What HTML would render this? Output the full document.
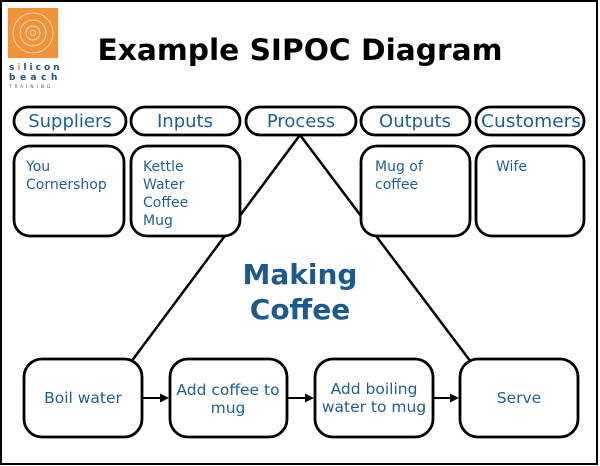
<!DOCTYPE html>
<html><head><meta charset="utf-8"><style>
html,body{margin:0;padding:0;background:#fff;}
svg{display:block;}
text{font-family:"DejaVu Sans","Liberation Sans",sans-serif;}
.b{fill:#fff;stroke:#000;stroke-width:2.8;}
.t{fill:#1f5f8f;font-size:14px;}
.u{fill:#1f5f8f;font-size:15.5px;}
.h{fill:#1f5f8f;font-size:18px;text-anchor:middle;}
</style></head><body>
<svg width="600" height="466" viewBox="0 0 600 466" xmlns="http://www.w3.org/2000/svg">
<rect x="1" y="1" width="596" height="463" fill="#fff" stroke="#000" stroke-width="2"/>
<!-- logo -->
<rect x="8" y="8" width="50" height="50" fill="#f39237"/>
<g fill="none" stroke="#fff" stroke-width="0.8" opacity="0.9">
<circle cx="33" cy="33" r="20"/><circle cx="33" cy="33" r="13"/><circle cx="33" cy="33" r="7"/><circle cx="33" cy="33" r="2.5"/>
</g>
<text x="9" y="70" font-size="9" font-weight="bold" fill="#1f4f7f" letter-spacing="3">s<tspan fill="#f39237">i</tspan>licon</text>
<text x="9" y="80" font-size="9" font-weight="bold" fill="#1f4f7f" letter-spacing="4.5">beach</text>
<text x="9" y="88" font-size="4.5" fill="#555" letter-spacing="2.8">TRAINING</text>
<!-- title -->
<text x="300" y="60" font-size="29" font-weight="bold" text-anchor="middle" textLength="405" lengthAdjust="spacingAndGlyphs" fill="#000">Example SIPOC Diagram</text>
<!-- triangle lines -->
<line x1="300" y1="135" x2="128" y2="366" stroke="#000" stroke-width="2.5"/>
<line x1="300" y1="135" x2="474" y2="366" stroke="#000" stroke-width="2.5"/>
<!-- pills -->
<rect class="b" x="14" y="107" width="112" height="28" rx="14"/>
<rect class="b" x="131" y="107" width="109" height="28" rx="14"/>
<rect class="b" x="246" y="107" width="110" height="28" rx="14"/>
<rect class="b" x="361" y="107" width="109" height="28" rx="14"/>
<rect class="b" x="476" y="107" width="108" height="28" rx="14"/>
<text class="h" x="70" y="127">Suppliers</text>
<text class="h" x="185" y="127">Inputs</text>
<text class="h" x="301" y="127">Process</text>
<text class="h" x="415" y="127">Outputs</text>
<text class="h" x="531" y="127" textLength="100" lengthAdjust="spacingAndGlyphs">Customers</text>
<!-- boxes -->
<rect class="b" x="14" y="146" width="110" height="90" rx="16"/>
<rect class="b" x="131" y="146" width="109" height="90" rx="16"/>
<rect class="b" x="361" y="146" width="109" height="90" rx="16"/>
<rect class="b" x="476" y="146" width="108" height="90" rx="16"/>
<text class="t" x="26" y="171">You</text>
<text class="t" x="26" y="189">Cornershop</text>
<text class="t" x="143" y="171">Kettle</text>
<text class="t" x="143" y="189">Water</text>
<text class="t" x="143" y="207">Coffee</text>
<text class="t" x="143" y="225">Mug</text>
<text class="t" x="375" y="171">Mug of</text>
<text class="t" x="375" y="189">coffee</text>
<text class="t" x="496" y="171">Wife</text>
<!-- center text -->
<text x="300" y="284" font-size="28" font-weight="bold" fill="#1a5a8c" text-anchor="middle">Making</text>
<text x="300" y="319" font-size="28" font-weight="bold" fill="#1a5a8c" text-anchor="middle">Coffee</text>
<!-- bottom boxes -->
<rect class="b" x="24" y="359" width="118" height="78" rx="18"/>
<rect class="b" x="170" y="359" width="117" height="78" rx="18"/>
<rect class="b" x="315" y="359" width="118" height="78" rx="18"/>
<rect class="b" x="460" y="359" width="118" height="78" rx="18"/>
<text class="u" x="83" y="403" text-anchor="middle">Boil water</text>
<text class="u" x="228" y="395" text-anchor="middle">Add coffee to</text>
<text class="u" x="228" y="413" text-anchor="middle">mug</text>
<text class="u" x="374" y="394" text-anchor="middle">Add boiling</text>
<text class="u" x="374" y="412" text-anchor="middle">water to mug</text>
<text class="u" x="519" y="403" text-anchor="middle">Serve</text>
<!-- arrows -->
<g stroke="#000" stroke-width="2">
<line x1="143" y1="398" x2="162" y2="398"/>
<line x1="288" y1="398" x2="307" y2="398"/>
<line x1="434" y1="398" x2="452" y2="398"/>
</g>
<g fill="#000">
<polygon points="169,398 160,393.5 160,402.5"/>
<polygon points="314,398 305,393.5 305,402.5"/>
<polygon points="459,398 450,393.5 450,402.5"/>
</g>
</svg>
</body></html>
